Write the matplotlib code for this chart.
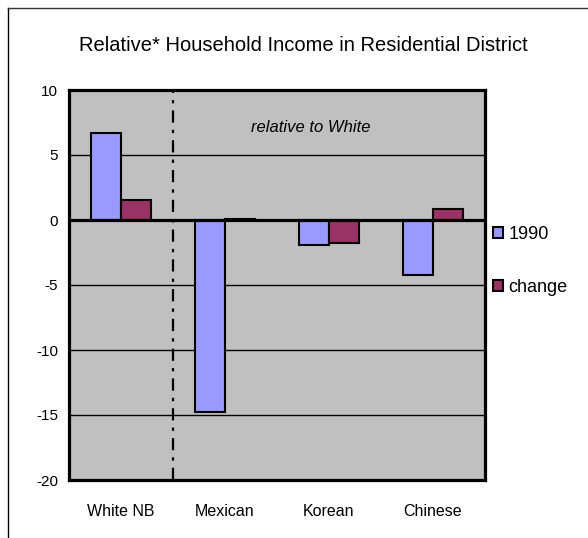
import matplotlib.pyplot as plt
import numpy as np
from matplotlib.lines import Line2D
from matplotlib.patches import Patch

plt.rcParams['font.family'] = ['Liberation Sans', 'DejaVu Sans']

groups = ['White NB', 'Mexican', 'Korean', 'Chinese']
inc_1990 = [6.7, -14.8, -1.95, -4.25]
inc_change = [1.55, 0.07, -1.8, 0.85]
yticks = [10, 5, 0, -5, -10, -15, -20]

c_1990 = '#9999FF'
c_change = '#993366'

W, H = 588, 538
fig = plt.figure(figsize=(W / 100, H / 100), dpi=100)

# frame around the chart (only left and top edges are visible)
fig.add_artist(Line2D([8 / W, 8 / W], [0, 1 - 8 / H], transform=fig.transFigure,
                      color='black', lw=1))
fig.add_artist(Line2D([8 / W, 1], [1 - 8 / H, 1 - 8 / H], transform=fig.transFigure,
                      color='#333333', lw=1))

ax = fig.add_axes([69 / W, 58 / H, 416 / W, 390 / H])
ax.set_facecolor('#C0C0C0')

x = np.arange(len(groups))
bw = 0.29
ax.bar(x - bw / 2, inc_1990, bw, color=c_1990, edgecolor='black', lw=1.5,
       label='1990', zorder=3)
ax.bar(x + bw / 2, inc_change, bw, color=c_change, edgecolor='black', lw=1.5,
       label='change', zorder=3)

ax.set_xlim(-0.5, len(groups) - 0.5)
ax.set_ylim(-20, 10)
ax.set_yticks(yticks)
ax.set_yticklabels([str(v) for v in yticks], fontsize=11)
ax.set_xticks(x)
ax.set_xticklabels(groups, fontsize=11.5)
ax.tick_params(axis='x', length=0, pad=17)
ax.tick_params(axis='y', length=0, pad=8)

for v in yticks[1:-1]:
    if v != 0:
        ax.axhline(v, color='black', lw=1, zorder=1)
ax.axhline(0, color='black', lw=2.3, zorder=4)
ax.axvline(0.5, color='black', lw=1.6, ls=(0, (5.5, 3.2, 1.5, 3.2)), zorder=2)

for s in ax.spines.values():
    s.set_linewidth(2.3)

ax.text(1.82, 7.1, 'relative to White', fontsize=12, style='italic', ha='center',
        va='center')

fig.text(303 / W, 1 - 50.7 / H, 'Relative* Household Income in Residential District',
         fontsize=14.5, ha='center', va='baseline')

handles = [Patch(facecolor=c_1990, edgecolor='black', lw=1.5, label='1990'),
           Patch(facecolor=c_change, edgecolor='black', lw=1.5, label='change')]
fig.legend(handles=handles, loc='center left', bbox_to_anchor=(493 / W, 1 - 261 / H),
           frameon=False, fontsize=13, handlelength=0.55, handleheight=0.55,
           handletextpad=0.3, labelspacing=1.98, borderaxespad=0, borderpad=0)

fig.savefig('out.png', dpi=100)
